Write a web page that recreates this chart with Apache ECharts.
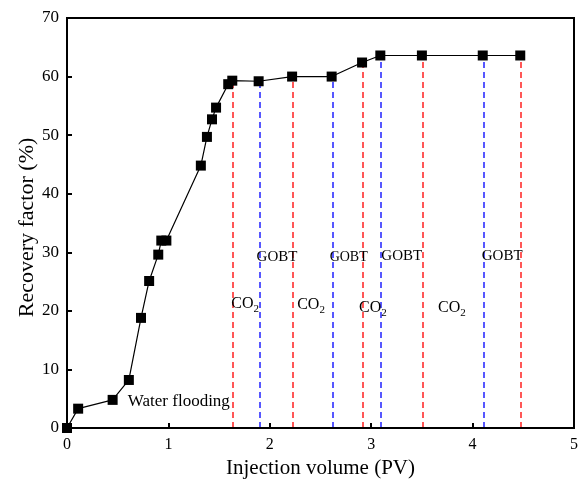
<!DOCTYPE html>
<html>
<head>
<meta charset="utf-8">
<script src="https://cdn.jsdelivr.net/npm/echarts@6/dist/echarts.min.js"></script>
<style>
html,body{margin:0;padding:0;background:#fff}
#main{width:581px;height:484px}
</style>
</head>
<body>
<div id="main"></div>
<script>
// recovery curve
var pv = [0, 0.11, 0.45, 0.61, 0.73, 0.81, 0.90, 0.93, 0.98, 1.32, 1.38, 1.43, 1.47, 1.59, 1.63, 1.89, 2.22, 2.61, 2.91, 3.09, 3.50, 4.10, 4.47]
var rf = [0, 3.3, 4.8, 8.2, 18.8, 25.1, 29.6, 32.0, 32.0, 44.8, 49.7, 52.7, 54.7, 58.7, 59.3, 59.2, 60.0, 60.0, 62.4, 63.6, 63.6, 63.6, 63.6]

// dashed stage boundaries
var redX = [1.63, 2.23, 2.92, 3.51, 4.47]
var redTop = [59.3, 60.0, 62.4, 63.6, 63.6]
var blueX = [1.90, 2.62, 3.09, 4.11]
var blueTop = [59.2, 60.0, 63.6, 63.6]

// text annotations
var gobtX = [1.87, 2.59, 3.10, 4.09]
var gobtY = [29.1, 29.1, 29.4, 29.4]
var gobtSize = [15, 14, 15, 15]
var co2X = [1.62, 2.27, 2.88, 3.66]
var co2Y = [21.2, 21.0, 20.5, 20.5]

var xTicks = [0, 1, 2, 3, 4, 5]
var yTicks = [0, 10, 20, 30, 40, 50, 60, 70]

var font = 'Liberation Serif'
var myChart = echarts.init(document.getElementById('main'))

function dashLines(xs, tops, color) {
    return xs.map(function (x, i) {
        return [{coord: [x, 0]}, {coord: [x, tops[i]], lineStyle: {color: color, type: [6, 4], width: 1.5}}]
    })
}

var textData = []
gobtX.forEach(function (x, i) {
    textData.push({value: [x, gobtY[i]], label: {formatter: 'GOBT', fontSize: gobtSize[i]}})
})
co2X.forEach(function (x, i) {
    textData.push({value: [x, co2Y[i]], label: {formatter: '{n|CO}{s|2}'}})
})
textData.push({value: [0.60, 4.6], label: {formatter: 'Water flooding', fontSize: 17}})

option = {
    animation: false,
    backgroundColor: '#fff',
    grid: {left: 67, right: 7, top: 18, bottom: 56, outerBoundsMode: 'none'},
    xAxis: {
        type: 'value',
        min: 0, max: 5, interval: 1,
        name: 'Injection volume (PV)',
        nameLocation: 'middle',
        nameGap: 30,
        nameMoveOverlap: false,
        nameTextStyle: {fontFamily: font, fontSize: 21, color: '#000'},
        axisLine: {onZero: false, lineStyle: {color: '#000', width: 2}},
        axisTick: {inside: true, length: 5, lineStyle: {color: '#000', width: 2}},
        axisLabel: {fontFamily: font, fontSize: 16, color: '#000', margin: 9,
            formatter: function (v) { return xTicks.indexOf(v) >= 0 ? String(v) : '' }},
        splitLine: {show: false}
    },
    yAxis: {
        type: 'value',
        min: 0, max: 70, interval: 10,
        name: 'Recovery factor (%)',
        nameLocation: 'middle',
        nameGap: 29,
        nameMoveOverlap: false,
        nameTextStyle: {fontFamily: font, fontSize: 22, color: '#000', padding: [0, 9, 0, 0]},
        axisLine: {show: true, onZero: false, lineStyle: {color: '#000', width: 2}},
        axisTick: {inside: true, length: 5, lineStyle: {color: '#000', width: 2}},
        axisLabel: {fontFamily: font, fontSize: 17, color: '#000', margin: 8,
            formatter: function (v) { return yTicks.indexOf(v) >= 0 ? String(v) : '' }},
        splitLine: {show: false}
    },
    graphic: [{
        type: 'rect',
        shape: {x: 67, y: 18, width: 507, height: 410},
        style: {fill: 'none', stroke: '#000', lineWidth: 2},
        silent: true, z: 10
    }],
    series: [{
        type: 'line',
        data: pv.map(function (x, i) { return [x, rf[i]] }),
        symbol: 'rect',
        symbolSize: 10,
        lineStyle: {color: '#000', width: 1.2},
        itemStyle: {color: '#000'},
        z: 5,
        markLine: {
            silent: true,
            symbol: 'none',
            label: {show: false},
            data: dashLines(redX, redTop, '#ff2020').concat(dashLines(blueX, blueTop, '#2020ff'))
        }
    }, {
        type: 'scatter',
        symbolSize: 0,
        data: textData,
        z: 6,
        itemStyle: {opacity: 1},
        label: {
            show: true,
            position: 'inside',
            align: 'left',
            verticalAlign: 'middle',
            fontFamily: font,
            fontSize: 15,
            color: '#000',
            rich: {
                n: {fontFamily: font, fontSize: 16, color: '#000'},
                s: {fontFamily: font, fontSize: 11, color: '#000', padding: [10, 0, 0, 0]}
            }
        }
    }]
}
myChart.setOption(option)
</script>
</body>
</html>
